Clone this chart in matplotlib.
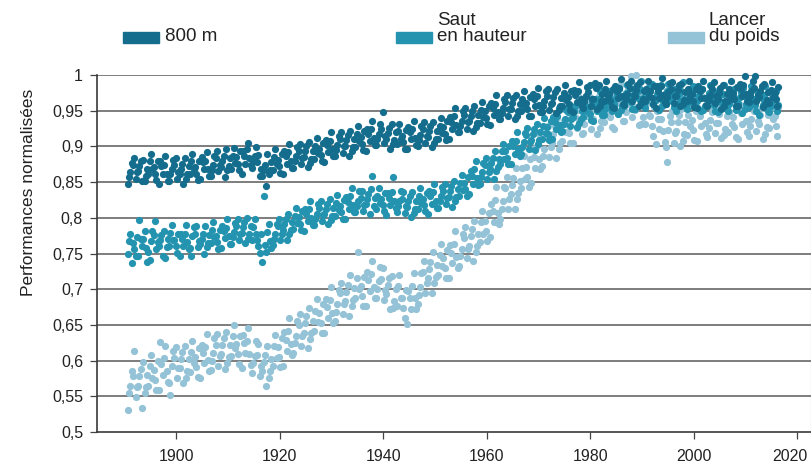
import matplotlib
matplotlib.use("Agg")
import matplotlib.pyplot as plt
from matplotlib.patches import Rectangle
import matplotlib.transforms as mtransforms
import numpy as np

plt.rcParams['font.family'] = ['Liberation Sans', 'DejaVu Sans']

# ---------------- data ----------------
series_names = ["800 m", "Saut\nen hauteur", "Lancer\ndu poids"]
series_colors = ["#156d8d", "#2393af", "#94c2d6"]
first_year = 1891

# values in thousandths of normalised performance, 4 per year, 1891..2016
m800 = [
[848,864,877,857],[874,855,864,884],[865,880,851,873],[881,858,869,852],[861,890,869,879],
[871,853,879,862],[848,872,862,879],[874,862,852,886],[852,868,881,861],
[874,855,864,884],[861,876,847,869],[884,861,872,855],[861,890,869,879],[871,853,879,862],
[854,878,868,885],[880,868,858,892],[858,874,887,867],[884,865,874,894],[871,886,857,879],
[896,873,884,867],[869,898,877,887],[885,867,893,876],[862,886,876,893],[896,884,874,905],
[870,886,899,879],[878,859,868,888],[859,874,845,867],[890,867,878,861],[867,896,875,885],
[881,863,889,872],[862,886,876,893],[892,880,870,904],[870,886,899,879],[894,875,884,904],
[885,900,871,893],[906,883,894,877],[883,912,891,901],[897,879,905,888],[878,902,892,909],
[908,896,886,920],[886,902,915,895],[910,891,900,920],[901,916,887,909],[922,899,910,893],
[899,928,907,917],[913,895,921,904],[894,918,908,925],[924,912,902,936],[902,918,931,911],
[924,905,914,948],[911,926,897,919],[932,909,920,903],[903,932,911,921],[915,897,923,906],
[896,920,910,927],[924,912,902,936],[900,916,929,909],[924,905,914,934],[913,928,899,921],
[934,911,922,905],[911,940,919,929],[927,909,935,918],[910,934,924,941],[942,930,920,954],
[920,936,949,929],[944,925,934,954],[935,950,921,943],[956,933,944,927],[933,962,941,951],
[949,931,957,940],[930,954,944,961],[960,948,938,972],[938,954,967,947],[962,943,952,972],
[953,968,939,961],[972,949,960,943],[949,978,957,967],[961,943,969,952],[942,966,956,973],
[970,958,948,982],[948,964,977,957],[970,951,960,980],[961,976,947,969],[980,957,968,951],
[957,986,965,975],[969,951,977,960],[948,972,962,979],[978,966,956,990],[954,970,983,963],
[976,957,966,986],[967,982,953,989],[986,963,974,957],[963,992,971,981],[973,955,981,964],
[954,978,968,985],[982,970,960,994],[958,974,987,967],[982,963,972,992],[971,986,957,979],
[990,967,978,961],[963,992,971,981],[977,959,985,968],[954,978,968,985],[984,972,962,996],
[960,976,989,969],[980,961,970,990],[971,986,957,979],[988,965,976,959],[963,992,971,981],
[973,955,981,964],[954,978,968,985],[980,968,958,992],[956,972,985,965],[980,961,970,990],
[967,982,953,975],[986,963,974,957],[963,992,971,981],[975,957,983,966],[956,980,970,987],
[986,974,964,998],[962,978,991,971],[982,963,972,999],[969,984,955,977],[988,965,976,959],
[961,990,969,979],[975,957,983,966],
]

saut = [
[749,778,737,767],[765,747,773,756],[746,770,760,797],[770,758,738,782],[752,768,781,741],
[776,757,766,796],[761,776,747,769],[782,759,770,743],[761,790,769,779],
[769,751,777,760],[746,770,760,777],[778,766,756,790],[758,774,787,747],[778,759,768,788],
[763,778,749,771],[788,765,776,759],[765,794,773,783],[775,757,783,766],[758,782,772,789],
[786,774,764,798],[764,780,793,773],[788,769,778,798],[779,794,765,787],[800,777,788,771],
[769,798,777,787],[769,751,777,760],[738,762,752,830],[780,768,758,792],[762,778,791,771],
[788,769,778,798],[783,798,769,791],[806,783,794,777],[785,814,793,803],[801,783,809,792],
[782,806,796,813],[812,800,790,824],[790,806,819,799],[814,795,804,824],[805,820,791,813],
[826,803,814,797],[803,832,811,821],[817,799,825,808],[798,822,812,829],[830,818,808,842],
[808,824,837,817],[828,809,818,838],[819,834,805,827],[840,817,828,858],[813,842,821,831],
[827,809,835,818],[804,828,818,835],[836,824,814,857],[808,824,837,817],[826,807,816,836],
[815,830,801,823],[836,813,824,807],[813,842,821,831],[827,809,835,818],[806,830,820,837],
[836,824,814,848],[814,830,843,823],[838,819,828,848],[829,844,815,837],[852,829,840,823],
[831,860,839,849],[849,831,857,840],[834,858,848,865],[868,856,846,880],[848,864,877,857],
[874,855,864,884],[869,884,855,877],[894,871,882,865],[875,904,883,893],[893,875,901,884],
[876,900,890,907],[908,896,886,920],[890,906,919,899],[916,897,906,926],[909,924,895,917],
[932,909,920,903],[911,940,919,929],[927,909,935,918],[910,934,924,941],[942,930,920,954],
[922,938,951,931],[948,929,938,958],[941,956,927,949],[962,939,950,933],[941,970,949,959],
[955,937,963,946],[936,960,950,967],[966,954,944,978],[944,960,973,953],[968,949,958,978],
[959,974,945,967],[980,957,968,951],[957,986,965,975],[971,953,979,962],[952,976,966,983],
[980,968,958,992],[954,970,983,963],[978,959,968,988],[965,980,951,973],[986,963,974,957],
[959,988,967,977],[973,955,981,964],[950,974,964,981],[978,966,956,990],[952,968,981,961],
[974,955,964,984],[963,978,949,971],[980,957,968,951],[957,986,965,975],[967,949,975,958],
[948,972,962,979],[974,962,952,986],[950,966,979,959],[970,951,960,980],[961,976,947,969],
[982,959,970,953],[955,984,963,973],[967,949,975,958],[944,968,958,975],[972,960,950,984],
[948,964,977,957],[968,949,958,978],
]

poids = [
[531,565,585,554],[578,549,563,613],[565,588,534,578],[598,563,580,554],[564,608,576,592],
[587,559,599,573],[559,595,580,626],[603,585,570,621],[569,593,613,552],
[604,575,589,619],[589,612,568,602],[620,585,602,576],[584,628,596,612],[605,577,617,591],
[575,611,596,622],[619,601,586,637],[587,611,631,600],[622,593,607,637],[609,632,588,622],
[640,605,622,596],[606,650,618,634],[623,595,635,609],[589,625,610,636],[627,609,594,645],
[583,607,627,596],[608,579,593,623],[585,608,564,598],[620,585,602,576],[592,636,604,620],
[619,591,631,605],[593,629,614,640],[641,623,608,659],[611,635,655,624],[650,621,635,665],
[639,662,618,652],[674,639,656,630],[642,686,654,670],[667,639,679,653],[639,675,660,686],
[685,667,652,703],[655,679,699,668],[694,665,679,709],[683,706,662,696],[720,685,702,676],
[688,752,700,716],[705,677,717,691],[677,713,698,724],[721,703,688,739],[687,711,731,700],
[714,685,699,729],[693,716,672,706],[718,683,700,674],[676,720,688,704],[687,659,699,673],
[651,687,672,698],[705,687,672,723],[679,703,723,692],[724,695,709,739],[715,738,694,728],
[752,717,734,708],[720,764,732,748],[743,715,755,729],[715,751,736,762],[763,745,730,781],
[733,757,777,746],[772,743,757,787],[761,784,740,774],[796,761,778,752],[766,810,778,794],
[795,767,807,781],[773,809,794,820],[825,807,792,843],[799,823,843,812],[842,813,827,857],
[833,856,812,846],[870,835,852,826],[842,886,854,870],[871,843,883,857],[849,885,870,896],
[901,883,868,919],[873,897,917,886],[914,885,899,929],[905,928,884,918],[940,905,922,896],
[908,952,920,936],[933,905,945,919],[905,941,926,952],[951,933,918,969],[919,943,963,932],
[954,925,939,969],[939,962,918,952],[970,935,952,926],[934,978,946,962],[955,927,967,941],
[925,961,946,972],[969,951,936,987],[935,959,979,948],[970,941,955,998],[951,974,930,1000],
[976,941,958,932],[932,976,944,960],[943,915,955,929],[903,939,924,950],[939,921,906,957],
[899,923,943,878],[934,905,919,949],[921,944,900,934],[952,917,934,908],[916,960,928,944],
[937,909,949,923],[907,943,928,954],[951,933,918,969],[913,937,957,926],[948,919,933,963],
[933,956,912,946],[960,925,942,916],[920,964,932,948],[941,913,953,927],[911,947,932,958],
[953,935,920,971],[915,939,959,928],[950,921,935,965],[931,954,910,944],[962,927,944,918],
[926,970,938,954],[943,915,955,929],
]

y_ticks = [0.5, 0.55, 0.6, 0.65, 0.7, 0.75, 0.8, 0.85, 0.9, 0.95, 1.0]
y_tick_labels = ["0,5", "0,55", "0,6", "0,65", "0,7", "0,75", "0,8", "0,85", "0,9", "0,95", "1"]
x_ticks = [1900, 1920, 1940, 1960, 1980, 2000, 2020]
y_label = "Performances normalisées"

# ---------------- figure ----------------
W, H = 812, 467
fig = plt.figure(figsize=(W / 100, H / 100), dpi=100)
ax = fig.add_axes([97 / W, 1 - 432 / H, (811 - 97) / W, (432 - 75) / H])

# small dodge of the 4 marks within one year so they do not stack in one column
dodge = [-0.35, 0.15, 0.4, -0.1]

def to_xy(rows):
    xs, ys = [], []
    for i, row in enumerate(rows):
        for k, v in enumerate(row):
            xs.append(first_year + i + dodge[k])
            ys.append(v / 1000.0)
    return np.array(xs), np.array(ys)

# draw light first, dark last
for rows, col in [(poids, series_colors[2]), (saut, series_colors[1]), (m800, series_colors[0])]:
    xs, ys = to_xy(rows)
    ax.scatter(xs, ys, s=27, color=col, linewidths=0, zorder=3, clip_on=False)

ax.set_xlim(1884.7, 2022.7)
ax.set_ylim(0.5, 1.0)
ax.set_yticks(y_ticks)
ax.set_yticklabels(y_tick_labels)
ax.set_xticks(x_ticks)
ax.set_xticklabels([str(t) for t in x_ticks])

for yv in y_ticks[1:]:
    ax.axhline(yv, color="#5a5a5a", lw=1.1, zorder=1)

ax.spines["top"].set_visible(False)
for s in ["left", "bottom"]:
    ax.spines[s].set_color("#3a3a3a")
    ax.spines[s].set_linewidth(1.2)
ax.spines["right"].set_linewidth(0.8)
ax.spines["right"].set_color("#9a9a9a")

ax.tick_params(axis="both", colors="#444444", labelcolor="#222222", labelsize=11.5,
               length=5, width=0.9, direction="out")
ax.tick_params(axis="x", pad=7)
ax.tick_params(axis="y", pad=5)

# last x label sits a little left of its tick, as in the original
lbls = ax.get_xticklabels()
lbls[-1].set_transform(lbls[-1].get_transform() +
                       mtransforms.ScaledTranslation(-7 / 100, 0, fig.dpi_scale_trans))

fig.text(29 / W, 1 - 192 / H, y_label, rotation=90, ha="center", va="center",
         fontsize=12.5, color="#222222")

# legend (manual, in figure pixels)
leg_items = [(123, 165), (396, 437), (668, 709)]
for (rx, tx), name, col in zip(leg_items, series_names, series_colors):
    fig.patches.append(Rectangle((rx / W, 1 - 43 / H), 36 / W, 11 / H,
                                 transform=fig.transFigure, color=col))
    fig.text(tx / W, 1 - 45 / H, name, ha="left", va="bottom", fontsize=13.5,
             color="#222222", linespacing=0.95)

fig.savefig("out.png", dpi=100)
